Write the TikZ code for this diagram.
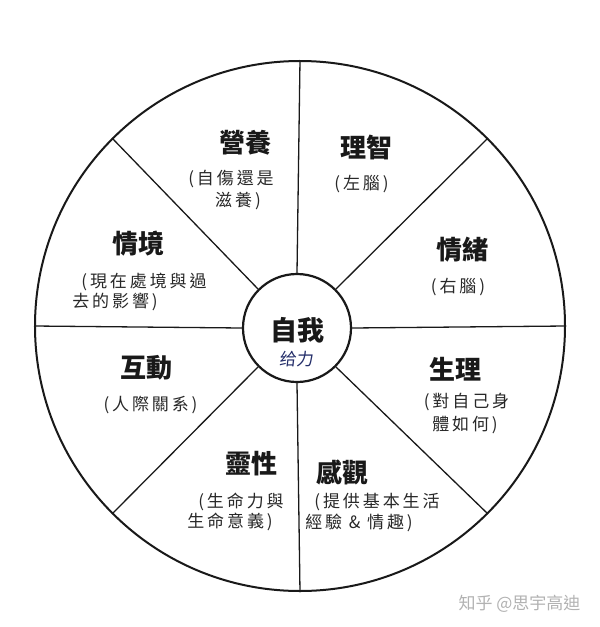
\documentclass[tikz,border=0pt]{standalone}
\usepackage{fontspec}
\newfontfamily\cjk{Noto Sans CJK TC}
\newfontfamily\cjksub{Noto Sans CJK TC}[LetterSpace=17]
\newfontfamily\handfont{Noto Sans CJK SC}[FakeSlant=0.12]
\definecolor{ink}{RGB}{25,25,25}
\definecolor{subink}{RGB}{40,40,40}
\definecolor{pen}{RGB}{35,45,105}
\begin{document}
\begin{tikzpicture}[x=1pt,y=-1pt,
  ring/.style={circle, draw=ink, inner sep=0pt},
  spoke/.style={draw=ink, line width=1.3pt},
  ttl/.style={font=\cjk\bfseries\fontsize{26}{28}\selectfont, text=ink, inner sep=0pt},
  sub/.style={font=\cjksub\fontsize{17}{20}\selectfont, text=subink, inner sep=0pt},
]
\useasboundingbox[fill=white] (0,0) rectangle (600,627);
\node[ring, line width=2pt, minimum size=530pt] (outer) at (300,326) {};
\node[ring, line width=2.2pt, minimum size=108pt] (self) at (297,328) {};
\foreach \a in {0,45,...,315} \draw[spoke] (self.\a) -- (outer.\a);

% center
\node[font=\cjk\bfseries\fontsize{27}{28}\selectfont, text=ink, inner sep=0pt] (ziwo) at (297.5,330) {自我};
\node[font=\handfont\fontsize{17}{17}\selectfont, text=pen, inner sep=0pt] (hand) at (296,359) {给力};

% 營養
\node[ttl] (t1) at (245,143) {營養};
\node[sub] (s1a) at (231,179) {(自傷還是};
\node[sub] (s1b) at (238,201) {滋養)};
% 理智
\node[ttl] (t2) at (366.5,147.5) {理智};
\node[sub] (s2a) at (361.5,184) {(左腦)};
% 情緒
\node[ttl] (t3) at (462,250) {情緒};
\node[sub] (s3a) at (458,287) {(右腦)};
% 生理
\node[ttl] (t4) at (455.5,369) {生理};
\node[sub] (s4a) at (466.5,402) {(對自己身};
\node[sub] (s4b) at (465,425) {體如何)};
% 感觀
\node[ttl] (t5) at (342.5,472.5) {感觀};
\node[sub] (s5a) at (377,502.5) {(提供基本生活};
\node[sub] (s5b) at (359,523) {經驗 \& 情趣)};
% 靈性
\node[ttl] (t6) at (251.5,464) {靈性};
\node[sub] (s6a) at (241,502) {(生命力與};
\node[sub] (s6b) at (230,522) {生命意義)};
% 互動
\node[ttl] (t7) at (146.5,368) {互動};
\node[sub] (s7a) at (150.5,405) {(人際關系)};
% 情境
\node[ttl] (t8) at (138,244) {情境};
\node[sub] (s8a) at (144,281.5) {(現在處境與過};
\node[sub] (s8b) at (115,301.5) {去的影響)};

% watermark
\node[font=\cjk\fontsize{17}{17}\selectfont, text=black!30, inner sep=0pt] (wm) at (519.5,604) {知乎 @思宇高迪};
\end{tikzpicture}
\end{document}
